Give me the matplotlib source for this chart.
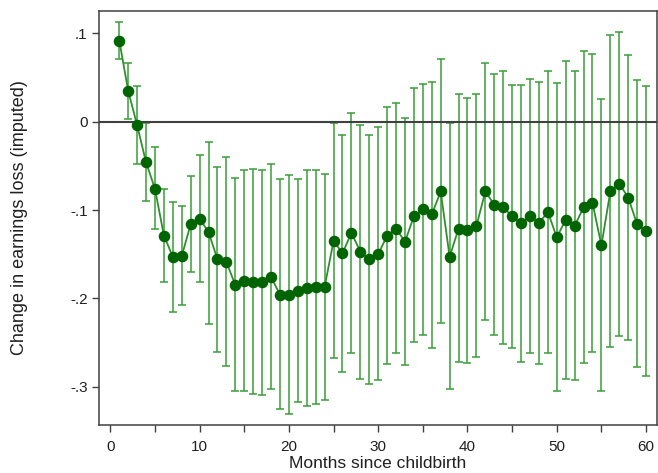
import numpy as np
import matplotlib
matplotlib.use("Agg")
import matplotlib.pyplot as plt

# months since childbirth
months = np.arange(1, 61)

# point estimates
coef = [0.092, 0.035, -0.004, -0.046, -0.076, -0.129, -0.153, -0.152, -0.116, -0.110,
        -0.125, -0.156, -0.159, -0.185, -0.180, -0.181, -0.182, -0.176, -0.196, -0.196,
        -0.192, -0.188, -0.187, -0.187, -0.135, -0.149, -0.126, -0.147, -0.156, -0.150,
        -0.129, -0.121, -0.136, -0.107, -0.099, -0.105, -0.079, -0.153, -0.121, -0.123,
        -0.118, -0.079, -0.094, -0.097, -0.107, -0.115, -0.107, -0.115, -0.102, -0.131,
        -0.111, -0.118, -0.097, -0.092, -0.140, -0.079, -0.070, -0.086, -0.116, -0.124]

# upper / lower ends of the confidence intervals
ci_hi = [0.113, 0.067, 0.040, -0.002, -0.029, -0.076, -0.091, -0.096, -0.062, -0.038,
         -0.023, -0.051, -0.040, -0.064, -0.055, -0.053, -0.055, -0.048, -0.065, -0.060,
         -0.065, -0.055, -0.055, -0.059, -0.002, -0.015, 0.010, -0.004, -0.015, -0.006,
         0.017, 0.021, 0.004, 0.038, 0.043, 0.045, 0.071, -0.002, 0.031, 0.027,
         0.031, 0.067, 0.054, 0.058, 0.042, 0.042, 0.048, 0.045, 0.058, 0.044,
         0.069, 0.057, 0.080, 0.077, 0.026, 0.098, 0.102, 0.076, 0.047, 0.041]
ci_lo = [0.071, 0.003, -0.048, -0.090, -0.122, -0.181, -0.216, -0.208, -0.170, -0.182,
         -0.229, -0.261, -0.277, -0.305, -0.305, -0.308, -0.309, -0.303, -0.325, -0.331,
         -0.317, -0.322, -0.320, -0.315, -0.268, -0.283, -0.262, -0.291, -0.297, -0.293,
         -0.274, -0.262, -0.276, -0.250, -0.242, -0.256, -0.228, -0.303, -0.272, -0.273,
         -0.267, -0.225, -0.242, -0.252, -0.256, -0.272, -0.262, -0.274, -0.262, -0.305,
         -0.291, -0.292, -0.273, -0.261, -0.305, -0.255, -0.243, -0.247, -0.278, -0.288]

yticks = [0.1, 0, -0.1, -0.2, -0.3]
ytick_labels = [".1", "0", "-.1", "-.2", "-.3"]
xticks = [0, 10, 20, 30, 40, 50, 60]

plt.rcParams['font.family'] = ['Liberation Sans', 'DejaVu Sans']

fig = plt.figure(figsize=(6.58, 4.73), dpi=100)
ax = fig.add_axes([0.151, 0.1015, 0.847, 0.8752])

coef = np.array(coef)
ci_hi = np.array(ci_hi)
ci_lo = np.array(ci_lo)

# confidence intervals as capped bars
ax.errorbar(months, coef, yerr=[coef - ci_lo, ci_hi - coef], fmt='none',
            ecolor='#3a9e3a', elinewidth=1.3, capsize=3, capthick=1.3,
            alpha=0.85, zorder=2)

ax.axhline(0, color='#404040', lw=1.5, zorder=3)

# estimates
ax.plot(months, coef, color='#2f8f2f', lw=1.3, zorder=4)
ax.plot(months, coef, 'o', color='#006400', ms=7.3, mec='#006400', zorder=5)

ax.set_xlim(-1.23, 61.19)
ax.set_ylim(-0.3435, 0.1254)

ax.set_xticks(xticks)
ax.set_xticks(np.arange(5, 60, 10), minor=True)
ax.set_yticks(yticks)
ax.set_yticklabels(ytick_labels)

ax.tick_params(axis='both', which='both', direction='out', length=5,
               width=1, color='#404040', labelsize=11, labelcolor='#202020')
ax.tick_params(axis='x', which='both', pad=6)

for s in ax.spines.values():
    s.set_color('#404040')
    s.set_linewidth(1.1)

ax.set_xlabel('Months since childbirth', fontsize=12.5, color='#202020', labelpad=1)
ax.set_ylabel('Change in earnings loss (imputed)', fontsize=13, color='#202020', labelpad=30)

fig.savefig('out.png', dpi=100)
